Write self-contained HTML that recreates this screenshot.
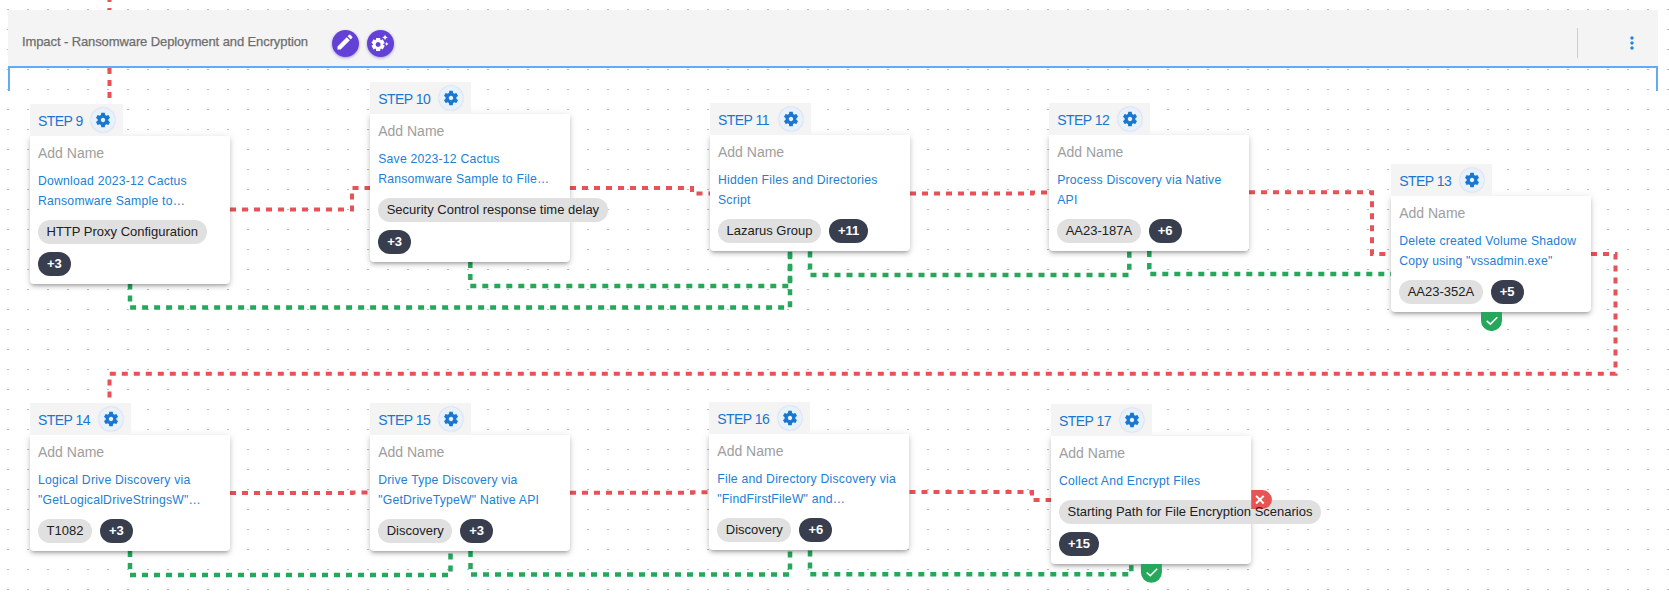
<!DOCTYPE html>
<html><head><meta charset="utf-8"><title>Impact - Ransomware Deployment and Encryption</title>
<style>
html,body{margin:0;padding:0;width:1669px;height:603px;overflow:hidden;background:#fff;font-family:"Liberation Sans", sans-serif;}
.abs{position:absolute;}
.tab{position:absolute;height:32px;background:#f4f4f4;}
.steplbl{position:absolute;left:8px;font-size:14px;line-height:20px;color:#1976d2;white-space:nowrap;letter-spacing:-0.55px;}
.gearc{position:absolute;width:24px;height:24px;border-radius:50%;background:#e8f2fd;box-shadow:0 0 1.5px rgba(90,110,230,0.45);}
.gearc svg{position:absolute;left:3px;top:3px;width:18px;height:18px;}
.card{position:absolute;width:200px;background:#fff;border-radius:0 0 4px 4px;box-shadow:0px 3px 3px -2px rgba(0,0,0,0.2),0px 3px 4px 0px rgba(0,0,0,0.14),0px 1px 8px 0px rgba(0,0,0,0.12);}
.addname{position:absolute;left:8px;font-size:14px;line-height:20px;color:#9e9e9e;white-space:nowrap;}
.link{position:absolute;left:8px;font-size:12.2px;line-height:20px;color:#2180d6;white-space:nowrap;letter-spacing:0.23px;}
.chip{position:absolute;height:24px;border-radius:12px;background:#e0e0e0;font-size:13px;line-height:24px;color:#212121;white-space:nowrap;padding:0 8.5px;box-sizing:border-box;}
.chip.dark{background:#393e4f;color:#fff;font-weight:bold;padding:0 9px;}
</style></head><body>

<svg class="abs" style="left:0;top:0" width="1669" height="603"><defs><pattern id="dots" x="0" y="0" width="20" height="20" patternUnits="userSpaceOnUse"><rect x="7" y="9" width="2" height="1" fill="#b9b9bf"/></pattern></defs><rect width="1669" height="603" fill="url(#dots)"/></svg>

<svg class="abs" style="left:0;top:0" width="1669" height="603">
<polyline points="130,283.5 130,307.4 790,307.4 790,251.5" fill="none" stroke="#25a85c" stroke-width="4.5" stroke-dasharray="6 6"/>
<polyline points="470.3,262 470.3,286 790,286 790,251.5" fill="none" stroke="#25a85c" stroke-width="4.5" stroke-dasharray="6 6"/>
<polyline points="810,251.5 810,275 1129.3,275 1129.3,251" fill="none" stroke="#25a85c" stroke-width="4.5" stroke-dasharray="6 6"/>
<polyline points="1149.3,251 1149.3,274 1491.5,274 1491.5,312" fill="none" stroke="#25a85c" stroke-width="4.5" stroke-dasharray="6 6"/>
<polyline points="130,551 130,575 450.5,575 450.5,551" fill="none" stroke="#25a85c" stroke-width="4.5" stroke-dasharray="6 6"/>
<polyline points="470.5,551 470.5,574.5 790,574.5 790,550.5" fill="none" stroke="#25a85c" stroke-width="4.5" stroke-dasharray="6 6"/>
<polyline points="810,550.5 810,574.2 1131.3,574.2 1131.3,564" fill="none" stroke="#25a85c" stroke-width="4.5" stroke-dasharray="6 6"/>
<polyline points="109.5,-4 109.5,103.5" fill="none" stroke="#e65257" stroke-width="4" stroke-dasharray="6 6"/>
<polyline points="230,209.5 352,209.5 352,188 370,188" fill="none" stroke="#e65257" stroke-width="4" stroke-dasharray="6 6"/>
<polyline points="570,188 692,188 692,193.5 710,193.5" fill="none" stroke="#e65257" stroke-width="4" stroke-dasharray="6 6"/>
<polyline points="910,193.5 1032,193.5 1032,192.5 1049,192.5" fill="none" stroke="#e65257" stroke-width="4" stroke-dasharray="6 6"/>
<polyline points="1249,192.3 1372,192.3 1372,254 1391,254" fill="none" stroke="#e65257" stroke-width="4" stroke-dasharray="6 6"/>
<polyline points="1591,254 1615.5,254 1615.5,373.8 109.5,373.8 109.5,403.5" fill="none" stroke="#e65257" stroke-width="4" stroke-dasharray="6 6"/>
<polyline points="230,493 352,493 352,492.5 370,492.5" fill="none" stroke="#e65257" stroke-width="4" stroke-dasharray="6 6"/>
<polyline points="570,492.7 692,492.7 692,492.2 710,492.2" fill="none" stroke="#e65257" stroke-width="4" stroke-dasharray="6 6"/>
<polyline points="909.5,492.1 1032,492.1 1032,500 1051,500" fill="none" stroke="#e65257" stroke-width="4" stroke-dasharray="6 6"/>
</svg>

<div class="abs" style="left:8px;top:10px;width:1649.5px;height:56px;background:#f4f4f4;"></div>
<div class="abs" style="left:8px;top:65.5px;width:1650px;height:2px;background:#62abf3;"></div>
<div class="abs" style="left:8px;top:65.5px;width:2px;height:25px;background:#62abf3;"></div>
<div class="abs" style="left:1656px;top:65.5px;width:2px;height:25px;background:#62abf3;"></div>
<div class="abs" style="left:22px;top:34px;font-size:13px;line-height:16px;color:#6e6e6e;white-space:nowrap;-webkit-text-stroke:0.25px #6e6e6e;letter-spacing:-0.1px;">Impact - Ransomware Deployment and Encryption</div>
<div class="abs" style="left:332px;top:29.8px;width:27px;height:27px;border-radius:50%;background:#6441d6;box-shadow:0 1px 3px rgba(80,40,200,0.45);"><svg style="position:absolute;left:2.8px;top:2.5px" width="20" height="20" viewBox="0 0 24 24"><path fill="#fff" d="M3 17.25V21h3.75L17.81 9.94l-3.75-3.75L3 17.25zM20.71 7.04c.39-.39.39-1.02 0-1.41l-2.34-2.34a.9959.9959 0 0 0-1.41 0l-1.83 1.83 3.75 3.75 1.83-1.83z"/></svg></div>
<div class="abs" style="left:367px;top:29.8px;width:27px;height:27px;border-radius:50%;background:#6441d6;box-shadow:0 1px 3px rgba(80,40,200,0.45);"><svg style="position:absolute;left:3.1px;top:3.3px" width="19.5" height="19.5" viewBox="0 0 24 24"><path fill="#fff" d="M17.41 6.59 15 5.5l2.41-1.09L18.5 2l1.09 2.41L22 5.5l-2.41 1.09L18.5 9l-1.09-2.41zm3.87 6.13L20.5 11l-.78 1.72-1.72.78 1.72.78.78 1.72.78-1.72L23 13.5l-1.72-.78zm-5.04 1.65 1.94 1.47-2.5 4.33-2.240-.94c-.2.13-.42.26-.64.37l-.3 2.4h-5l-.3-2.41c-.22-.11-.43-.23-.64-.37l-2.24.94-2.5-4.33 1.94-1.47c-.01-.11-.01-.24-.01-.36s0-.25.01-.37l-1.94-1.47 2.5-4.33 2.24.94c.2-.13.42-.26.64-.37L7.5 6h5l.3 2.41c.22.11.43.23.64.37l2.24-.94 2.5 4.33-1.94 1.47c.01.12.01.24.01.37s0 .24-.01.36zM13 14c0-1.66-1.34-3-3-3s-3 1.34-3 3 1.34 3 3 3 3-1.34 3-3z"/></svg></div>
<div class="abs" style="left:1577px;top:27.6px;width:1px;height:30px;background:#cfcfcf;"></div>
<svg class="abs" style="left:1622px;top:32.9px" width="20" height="20" viewBox="0 0 24 24"><path fill="#1e88e5" d="M12 8c1.1 0 2-.9 2-2s-.9-2-2-2-2 .9-2 2 .9 2 2 2zm0 2c-1.1 0-2 .9-2 2s.9 2 2 2 2-.9 2-2-.9-2-2-2zm0 6c-1.1 0-2 .9-2 2s.9 2 2 2 2-.9 2-2-.9-2-2-2z"/></svg>

<div class="card" style="left:30px;top:135.5px;height:148.0px;">
<div class="addname" style="top:7.57px">Add Name</div>
<div class="link" style="top:35.27px">Download 2023-12 Cactus</div>
<div class="link" style="top:55.27px">Ransomware Sample to…</div>
<div class="abs" style="left:8px;top:84.5px;display:flex;gap:8px;">
<div class="chip" style="position:relative">HTTP Proxy Configuration</div>
</div>
<div class="abs" style="left:8px;top:116.5px;display:flex;gap:8px;">
<div class="chip dark" style="position:relative">+3</div>
</div>
</div>
<div class="tab" style="left:30px;top:103.5px;width:93px;">
<div class="steplbl" style="top:7.57px">STEP 9</div>
<div class="gearc" style="left:61px;top:4px"><svg viewBox="0 0 24 24"><path fill="#1976d2" d="M19.14 12.94c.04-.3.06-.61.06-.94 0-.32-.02-.64-.07-.94l2.03-1.58c.18-.14.23-.41.12-.61l-1.92-3.32c-.12-.22-.37-.29-.59-.22l-2.39.96c-.5-.38-1.03-.7-1.62-.94l-.36-2.54c-.04-.24-.24-.41-.48-.41h-3.84c-.24 0-.43.17-.47.41l-.36 2.54c-.59.24-1.13.57-1.62.94l-2.39-.96c-.22-.08-.47 0-.59.22L2.74 8.87c-.12.21-.08.47.12.61l2.03 1.58c-.05.3-.09.63-.09.94s.02.64.07.94l-2.03 1.58c-.18.14-.23.41-.12.61l1.92 3.32c.12.22.37.29.59.22l2.39-.96c.5.38 1.03.7 1.62.94l.36 2.54c.05.24.24.41.48.41h3.84c.24 0 .44-.17.47-.41l.36-2.54c.59-.24 1.13-.56 1.62-.94l2.39.96c.22.08.47 0 .59-.22l1.92-3.32c.12-.22.07-.47-.12-.61l-2.01-1.58zM12 14.9c-1.6 0-2.9-1.3-2.9-2.9s1.3-2.9 2.9-2.9 2.9 1.3 2.9 2.9-1.3 2.9-2.9 2.9z"/></svg></div>
</div>

<div class="card" style="left:370.2px;top:113.7px;height:148.0px;">
<div class="addname" style="top:7.57px">Add Name</div>
<div class="link" style="top:35.27px">Save 2023-12 Cactus</div>
<div class="link" style="top:55.27px">Ransomware Sample to File…</div>
<div class="abs" style="left:8px;top:84.5px;display:flex;gap:8px;">
<div class="chip" style="position:relative">Security Control response time delay</div>
</div>
<div class="abs" style="left:8px;top:116.5px;display:flex;gap:8px;">
<div class="chip dark" style="position:relative">+3</div>
</div>
</div>
<div class="tab" style="left:370.2px;top:81.7px;width:101px;">
<div class="steplbl" style="top:7.57px">STEP 10</div>
<div class="gearc" style="left:69px;top:4px"><svg viewBox="0 0 24 24"><path fill="#1976d2" d="M19.14 12.94c.04-.3.06-.61.06-.94 0-.32-.02-.64-.07-.94l2.03-1.58c.18-.14.23-.41.12-.61l-1.92-3.32c-.12-.22-.37-.29-.59-.22l-2.39.96c-.5-.38-1.03-.7-1.62-.94l-.36-2.54c-.04-.24-.24-.41-.48-.41h-3.84c-.24 0-.43.17-.47.41l-.36 2.54c-.59.24-1.13.57-1.62.94l-2.39-.96c-.22-.08-.47 0-.59.22L2.74 8.87c-.12.21-.08.47.12.61l2.03 1.58c-.05.3-.09.63-.09.94s.02.64.07.94l-2.03 1.58c-.18.14-.23.41-.12.61l1.92 3.32c.12.22.37.29.59.22l2.39-.96c.5.38 1.03.7 1.62.94l.36 2.54c.05.24.24.41.48.41h3.84c.24 0 .44-.17.47-.41l.36-2.54c.59-.24 1.13-.56 1.62-.94l2.39.96c.22.08.47 0 .59-.22l1.92-3.32c.12-.22.07-.47-.12-.61l-2.01-1.58zM12 14.9c-1.6 0-2.9-1.3-2.9-2.9s1.3-2.9 2.9-2.9 2.9 1.3 2.9 2.9-1.3 2.9-2.9 2.9z"/></svg></div>
</div>

<div class="card" style="left:710px;top:134.8px;height:116.0px;">
<div class="addname" style="top:7.57px">Add Name</div>
<div class="link" style="top:35.27px">Hidden Files and Directories</div>
<div class="link" style="top:55.27px">Script</div>
<div class="abs" style="left:8px;top:84.5px;display:flex;gap:8px;">
<div class="chip" style="position:relative">Lazarus Group</div>
<div class="chip dark" style="position:relative">+11</div>
</div>
</div>
<div class="tab" style="left:710px;top:102.8px;width:101px;">
<div class="steplbl" style="top:7.57px">STEP 11</div>
<div class="gearc" style="left:69px;top:4px"><svg viewBox="0 0 24 24"><path fill="#1976d2" d="M19.14 12.94c.04-.3.06-.61.06-.94 0-.32-.02-.64-.07-.94l2.03-1.58c.18-.14.23-.41.12-.61l-1.92-3.32c-.12-.22-.37-.29-.59-.22l-2.39.96c-.5-.38-1.03-.7-1.62-.94l-.36-2.54c-.04-.24-.24-.41-.48-.41h-3.84c-.24 0-.43.17-.47.41l-.36 2.54c-.59.24-1.13.57-1.62.94l-2.39-.96c-.22-.08-.47 0-.59.22L2.74 8.87c-.12.21-.08.47.12.61l2.03 1.58c-.05.3-.09.63-.09.94s.02.64.07.94l-2.03 1.58c-.18.14-.23.41-.12.61l1.92 3.32c.12.22.37.29.59.22l2.39-.96c.5.38 1.03.7 1.62.94l.36 2.54c.05.24.24.41.48.41h3.84c.24 0 .44-.17.47-.41l.36-2.54c.59-.24 1.13-.56 1.62-.94l2.39.96c.22.08.47 0 .59-.22l1.92-3.32c.12-.22.07-.47-.12-.61l-2.01-1.58zM12 14.9c-1.6 0-2.9-1.3-2.9-2.9s1.3-2.9 2.9-2.9 2.9 1.3 2.9 2.9-1.3 2.9-2.9 2.9z"/></svg></div>
</div>

<div class="card" style="left:1049.2px;top:134.8px;height:116.0px;">
<div class="addname" style="top:7.57px">Add Name</div>
<div class="link" style="top:35.27px">Process Discovery via Native</div>
<div class="link" style="top:55.27px">API</div>
<div class="abs" style="left:8px;top:84.5px;display:flex;gap:8px;">
<div class="chip" style="position:relative">AA23-187A</div>
<div class="chip dark" style="position:relative">+6</div>
</div>
</div>
<div class="tab" style="left:1049.2px;top:102.8px;width:101px;">
<div class="steplbl" style="top:7.57px">STEP 12</div>
<div class="gearc" style="left:69px;top:4px"><svg viewBox="0 0 24 24"><path fill="#1976d2" d="M19.14 12.94c.04-.3.06-.61.06-.94 0-.32-.02-.64-.07-.94l2.03-1.58c.18-.14.23-.41.12-.61l-1.92-3.32c-.12-.22-.37-.29-.59-.22l-2.39.96c-.5-.38-1.03-.7-1.62-.94l-.36-2.54c-.04-.24-.24-.41-.48-.41h-3.84c-.24 0-.43.17-.47.41l-.36 2.54c-.59.24-1.13.57-1.62.94l-2.39-.96c-.22-.08-.47 0-.59.22L2.74 8.87c-.12.21-.08.47.12.61l2.03 1.58c-.05.3-.09.63-.09.94s.02.64.07.94l-2.03 1.58c-.18.14-.23.41-.12.61l1.92 3.32c.12.22.37.29.59.22l2.39-.96c.5.38 1.03.7 1.62.94l.36 2.54c.05.24.24.41.48.41h3.84c.24 0 .44-.17.47-.41l.36-2.54c.59-.24 1.13-.56 1.62-.94l2.39.96c.22.08.47 0 .59-.22l1.92-3.32c.12-.22.07-.47-.12-.61l-2.01-1.58zM12 14.9c-1.6 0-2.9-1.3-2.9-2.9s1.3-2.9 2.9-2.9 2.9 1.3 2.9 2.9-1.3 2.9-2.9 2.9z"/></svg></div>
</div>

<div class="card" style="left:1391.2px;top:195.7px;height:116.0px;">
<div class="addname" style="top:7.57px">Add Name</div>
<div class="link" style="top:35.27px">Delete created Volume Shadow</div>
<div class="link" style="top:55.27px">Copy using "vssadmin.exe"</div>
<div class="abs" style="left:8px;top:84.5px;display:flex;gap:8px;">
<div class="chip" style="position:relative">AA23-352A</div>
<div class="chip dark" style="position:relative">+5</div>
</div>
</div>
<div class="tab" style="left:1391.2px;top:163.7px;width:101px;">
<div class="steplbl" style="top:7.57px">STEP 13</div>
<div class="gearc" style="left:69px;top:4px"><svg viewBox="0 0 24 24"><path fill="#1976d2" d="M19.14 12.94c.04-.3.06-.61.06-.94 0-.32-.02-.64-.07-.94l2.03-1.58c.18-.14.23-.41.12-.61l-1.92-3.32c-.12-.22-.37-.29-.59-.22l-2.39.96c-.5-.38-1.03-.7-1.62-.94l-.36-2.54c-.04-.24-.24-.41-.48-.41h-3.84c-.24 0-.43.17-.47.41l-.36 2.54c-.59.24-1.13.57-1.62.94l-2.39-.96c-.22-.08-.47 0-.59.22L2.74 8.87c-.12.21-.08.47.12.61l2.03 1.58c-.05.3-.09.63-.09.94s.02.64.07.94l-2.03 1.58c-.18.14-.23.41-.12.61l1.92 3.32c.12.22.37.29.59.22l2.39-.96c.5.38 1.03.7 1.62.94l.36 2.54c.05.24.24.41.48.41h3.84c.24 0 .44-.17.47-.41l.36-2.54c.59-.24 1.13-.56 1.62-.94l2.39.96c.22.08.47 0 .59-.22l1.92-3.32c.12-.22.07-.47-.12-.61l-2.01-1.58zM12 14.9c-1.6 0-2.9-1.3-2.9-2.9s1.3-2.9 2.9-2.9 2.9 1.3 2.9 2.9-1.3 2.9-2.9 2.9z"/></svg></div>
</div>

<div class="card" style="left:30px;top:434.8px;height:116.0px;">
<div class="addname" style="top:7.57px">Add Name</div>
<div class="link" style="top:35.27px">Logical Drive Discovery via</div>
<div class="link" style="top:55.27px">"GetLogicalDriveStringsW"…</div>
<div class="abs" style="left:8px;top:84.5px;display:flex;gap:8px;">
<div class="chip" style="position:relative">T1082</div>
<div class="chip dark" style="position:relative">+3</div>
</div>
</div>
<div class="tab" style="left:30px;top:402.8px;width:101px;">
<div class="steplbl" style="top:7.57px">STEP 14</div>
<div class="gearc" style="left:69px;top:4px"><svg viewBox="0 0 24 24"><path fill="#1976d2" d="M19.14 12.94c.04-.3.06-.61.06-.94 0-.32-.02-.64-.07-.94l2.03-1.58c.18-.14.23-.41.12-.61l-1.92-3.32c-.12-.22-.37-.29-.59-.22l-2.39.96c-.5-.38-1.03-.7-1.62-.94l-.36-2.54c-.04-.24-.24-.41-.48-.41h-3.84c-.24 0-.43.17-.47.41l-.36 2.54c-.59.24-1.13.57-1.62.94l-2.39-.96c-.22-.08-.47 0-.59.22L2.74 8.87c-.12.21-.08.47.12.61l2.03 1.58c-.05.3-.09.63-.09.94s.02.64.07.94l-2.03 1.58c-.18.14-.23.41-.12.61l1.92 3.32c.12.22.37.29.59.22l2.39-.96c.5.38 1.03.7 1.62.94l.36 2.54c.05.24.24.41.48.41h3.84c.24 0 .44-.17.47-.41l.36-2.54c.59-.24 1.13-.56 1.62-.94l2.39.96c.22.08.47 0 .59-.22l1.92-3.32c.12-.22.07-.47-.12-.61l-2.01-1.58zM12 14.9c-1.6 0-2.9-1.3-2.9-2.9s1.3-2.9 2.9-2.9 2.9 1.3 2.9 2.9-1.3 2.9-2.9 2.9z"/></svg></div>
</div>

<div class="card" style="left:370.2px;top:434.8px;height:116.0px;">
<div class="addname" style="top:7.57px">Add Name</div>
<div class="link" style="top:35.27px">Drive Type Discovery via</div>
<div class="link" style="top:55.27px">"GetDriveTypeW" Native API</div>
<div class="abs" style="left:8px;top:84.5px;display:flex;gap:8px;">
<div class="chip" style="position:relative">Discovery</div>
<div class="chip dark" style="position:relative">+3</div>
</div>
</div>
<div class="tab" style="left:370.2px;top:402.8px;width:101px;">
<div class="steplbl" style="top:7.57px">STEP 15</div>
<div class="gearc" style="left:69px;top:4px"><svg viewBox="0 0 24 24"><path fill="#1976d2" d="M19.14 12.94c.04-.3.06-.61.06-.94 0-.32-.02-.64-.07-.94l2.03-1.58c.18-.14.23-.41.12-.61l-1.92-3.32c-.12-.22-.37-.29-.59-.22l-2.39.96c-.5-.38-1.03-.7-1.62-.94l-.36-2.54c-.04-.24-.24-.41-.48-.41h-3.84c-.24 0-.43.17-.47.41l-.36 2.54c-.59.24-1.13.57-1.62.94l-2.39-.96c-.22-.08-.47 0-.59.22L2.74 8.87c-.12.21-.08.47.12.61l2.03 1.58c-.05.3-.09.63-.09.94s.02.64.07.94l-2.03 1.58c-.18.14-.23.41-.12.61l1.92 3.32c.12.22.37.29.59.22l2.39-.96c.5.38 1.03.7 1.62.94l.36 2.54c.05.24.24.41.48.41h3.84c.24 0 .44-.17.47-.41l.36-2.54c.59-.24 1.13-.56 1.62-.94l2.39.96c.22.08.47 0 .59-.22l1.92-3.32c.12-.22.07-.47-.12-.61l-2.01-1.58zM12 14.9c-1.6 0-2.9-1.3-2.9-2.9s1.3-2.9 2.9-2.9 2.9 1.3 2.9 2.9-1.3 2.9-2.9 2.9z"/></svg></div>
</div>

<div class="card" style="left:709.3px;top:433.5px;height:116.0px;">
<div class="addname" style="top:7.57px">Add Name</div>
<div class="link" style="top:35.27px">File and Directory Discovery via</div>
<div class="link" style="top:55.27px">"FindFirstFileW" and…</div>
<div class="abs" style="left:8px;top:84.5px;display:flex;gap:8px;">
<div class="chip" style="position:relative">Discovery</div>
<div class="chip dark" style="position:relative">+6</div>
</div>
</div>
<div class="tab" style="left:709.3px;top:401.5px;width:101px;">
<div class="steplbl" style="top:7.57px">STEP 16</div>
<div class="gearc" style="left:69px;top:4px"><svg viewBox="0 0 24 24"><path fill="#1976d2" d="M19.14 12.94c.04-.3.06-.61.06-.94 0-.32-.02-.64-.07-.94l2.03-1.58c.18-.14.23-.41.12-.61l-1.92-3.32c-.12-.22-.37-.29-.59-.22l-2.39.96c-.5-.38-1.03-.7-1.62-.94l-.36-2.54c-.04-.24-.24-.41-.48-.41h-3.84c-.24 0-.43.17-.47.41l-.36 2.54c-.59.24-1.13.57-1.62.94l-2.39-.96c-.22-.08-.47 0-.59.22L2.74 8.87c-.12.21-.08.47.12.61l2.03 1.58c-.05.3-.09.63-.09.94s.02.64.07.94l-2.03 1.58c-.18.14-.23.41-.12.61l1.92 3.32c.12.22.37.29.59.22l2.39-.96c.5.38 1.03.7 1.62.94l.36 2.54c.05.24.24.41.48.41h3.84c.24 0 .44-.17.47-.41l.36-2.54c.59-.24 1.13-.56 1.62-.94l2.39.96c.22.08.47 0 .59-.22l1.92-3.32c.12-.22.07-.47-.12-.61l-2.01-1.58zM12 14.9c-1.6 0-2.9-1.3-2.9-2.9s1.3-2.9 2.9-2.9 2.9 1.3 2.9 2.9-1.3 2.9-2.9 2.9z"/></svg></div>
</div>

<div class="card" style="left:1051px;top:435.6px;height:128.0px;">
<div class="addname" style="top:7.57px">Add Name</div>
<div class="link" style="top:35.27px">Collect And Encrypt Files</div>
<div class="abs" style="left:8px;top:64.5px;display:flex;gap:8px;">
<div class="chip" style="position:relative;color:transparent">Starting Path for File Encryption Scenarios</div>
</div>
<div class="abs" style="left:8px;top:96.5px;display:flex;gap:8px;">
<div class="chip dark" style="position:relative">+15</div>
</div>
</div>
<div class="tab" style="left:1051px;top:403.6px;width:101px;">
<div class="steplbl" style="top:7.57px">STEP 17</div>
<div class="gearc" style="left:69px;top:4px"><svg viewBox="0 0 24 24"><path fill="#1976d2" d="M19.14 12.94c.04-.3.06-.61.06-.94 0-.32-.02-.64-.07-.94l2.03-1.58c.18-.14.23-.41.12-.61l-1.92-3.32c-.12-.22-.37-.29-.59-.22l-2.39.96c-.5-.38-1.03-.7-1.62-.94l-.36-2.54c-.04-.24-.24-.41-.48-.41h-3.84c-.24 0-.43.17-.47.41l-.36 2.54c-.59.24-1.13.57-1.62.94l-2.39-.96c-.22-.08-.47 0-.59.22L2.74 8.87c-.12.21-.08.47.12.61l2.03 1.58c-.05.3-.09.63-.09.94s.02.64.07.94l-2.03 1.58c-.18.14-.23.41-.12.61l1.92 3.32c.12.22.37.29.59.22l2.39-.96c.5.38 1.03.7 1.62.94l.36 2.54c.05.24.24.41.48.41h3.84c.24 0 .44-.17.47-.41l.36-2.54c.59-.24 1.13-.56 1.62-.94l2.39.96c.22.08.47 0 .59-.22l1.92-3.32c.12-.22.07-.47-.12-.61l-2.01-1.58zM12 14.9c-1.6 0-2.9-1.3-2.9-2.9s1.3-2.9 2.9-2.9 2.9 1.3 2.9 2.9-1.3 2.9-2.9 2.9z"/></svg></div>
</div>

<svg class="abs" style="left:0;top:0" width="1669" height="603"><path d="M1481.0,312 L1502.0,312 L1502.0,320.7 A10.5,10.5 0 0 1 1481.0,320.7 Z" fill="#25a85c"/><polyline points="1486.7,320.9 1490.4,324.09999999999997 1497.3,317.2" fill="none" stroke="#fff" stroke-width="1.6"/></svg>
<svg class="abs" style="left:0;top:0" width="1669" height="603"><path d="M1140.9,564 L1161.9,564 L1161.9,572.3 A10.5,10.5 0 0 1 1140.9,572.3 Z" fill="#25a85c"/><polyline points="1146.6000000000001,572.5 1150.3000000000002,575.6999999999999 1157.2,568.8" fill="none" stroke="#fff" stroke-width="1.6"/></svg>
<svg class="abs" style="left:0;top:0" width="1669" height="603"><path d="M1251.2,490.1 L1262.4,490.1 A9.5,9.5 0 0 1 1262.4,509.1 L1251.2,509.1 Z" fill="#e85454"/><path d="M1256.1,495.9 L1263.7,503.5 M1263.7,495.9 L1256.1,503.5" stroke="#fff" stroke-width="2"/></svg>
<div class="chip" style="left:1059px;top:500.1px;background:transparent;">Starting Path for File Encryption Scenarios</div>
</body></html>
